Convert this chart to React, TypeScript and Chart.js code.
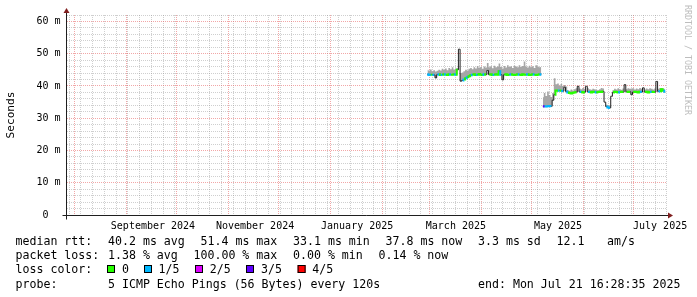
import React, { useEffect, useRef } from 'react';
import { Chart, registerables } from 'chart.js';
Chart.register(...registerables);

// ---------- time axis: days since 2024-08-01 00:00 ----------
const X_MIN = -4.36;
const X_MAX = 354.12;
const MONTH_START_DAYS = [0, 31, 61, 92, 122, 153, 184, 212, 243, 273, 304, 334];
const FIRST_WEEK_DAY = -3;
const MONTH_LABEL_DAYS = [47, 108, 169, 228, 289, 350];
const MONTH_LABELS = ['September 2024', 'November 2024', 'January 2025', 'March 2025', 'May 2025', 'July 2025'];

// ---------- value axis (milliseconds) ----------
const Y_MAX = 62;
const Y_MINOR_STEP = 2;
const Y_MAJOR_STEP = 10;

// ---------- data: segment A starts 2025-02-28 (day 211), one sample per day ----------
const SEG_A_START = 211;
const medianA = [
  43.6, 43.4, 43.5, 43.5, 43.4, 42.5, 43.5, 43.6, 43.4, 43.5,
  43.6, 43.5, 43.4, 43.6, 43.5, 43.5, 43.6, 43.5, 45.0, 51.4,
  41.5, 41.7, 42.0, 42.4, 42.7, 43.0, 43.3, 43.5, 43.6, 43.4,
  43.5, 43.7, 43.5, 43.4, 43.6, 43.5, 44.8, 43.5, 43.6, 43.4,
  43.5, 43.6, 43.5, 44.6, 43.5, 41.9, 43.5, 43.6, 43.4, 43.5,
  43.6, 43.5, 43.4, 43.5, 43.6, 43.5, 43.4, 43.6, 43.5, 43.5,
  43.6, 43.4, 43.5, 43.6, 43.5, 43.4, 43.5, 43.6, 43.5,
];
const smokeA = [
  45.0, 44.8, 45.1, 44.6, 44.9, 44.5, 44.7, 45.0, 44.8, 45.3,
  45.0, 45.4, 44.9, 45.6, 45.2, 45.8, 45.1, 45.4, 45.6, 51.4,
  44.0, 44.2, 44.6, 45.0, 44.8, 45.3, 45.6, 45.2, 45.8, 45.4,
  46.2, 45.6, 45.9, 45.3, 46.0, 45.7, 47.1, 45.8, 46.1, 45.5,
  46.3, 45.8, 46.0, 47.0, 45.9, 45.4, 46.2, 45.7, 46.4, 45.9,
  46.1, 45.6, 46.3, 46.0, 45.8, 46.4, 45.9, 46.2, 47.6, 46.0,
  45.7, 46.3, 45.8, 46.1, 45.6, 46.4, 46.0, 45.8, 45.9,
];
// lost pings out of 5 (9 = drawn by the dark median line only)
const lossA = [
  1, 1, 0, 1, 1, 9, 1, 0, 1, 0,
  1, 0, 0, 1, 0, 0, 1, 0, 1, 9,
  9, 1, 0, 1, 0, 0, 1, 0, 0, 1,
  0, 0, 0, 1, 0, 0, 9, 0, 0, 1,
  0, 0, 0, 1, 0, 9, 0, 0, 0, 1,
  0, 0, 0, 0, 1, 0, 0, 0, 0, 1,
  0, 0, 0, 1, 0, 0, 0, 1, 0,
];

// ---------- segment B starts 2025-05-08 (day 280) ----------
const SEG_B_START = 280;
const medianB = [
  33.6, 33.7, 33.6, 33.7, 33.8, 33.7, 35.6, 37.3, 38.6, 38.5,
  38.6, 38.5, 38.4, 39.6, 38.3, 38.0, 37.8, 37.7, 37.9, 38.0,
  38.1, 39.9, 38.2, 38.1, 38.0, 38.1, 39.9, 38.2, 38.1, 38.0,
  38.2, 38.1, 38.0, 38.1, 38.2, 38.1, 38.3, 35.0, 33.6, 33.3,
  33.2, 36.8, 38.0, 38.2, 38.1, 38.0, 38.1, 38.2, 38.1, 40.4,
  38.2, 38.1, 38.2, 37.3, 38.1, 38.2, 38.1, 38.0, 38.2, 38.1,
  39.4, 38.1, 38.2, 38.0, 38.1, 38.2, 38.1, 38.1, 41.4, 38.3,
  38.4, 39.0, 38.5, 38.2,
];
const smokeB = [
  36.5, 37.8, 36.9, 38.3, 37.2, 36.6, 37.8, 42.4, 40.5, 40.8,
  40.1, 40.6, 40.0, 40.3, 39.8, 38.7, 38.5, 38.9, 38.6, 39.0,
  39.3, 40.0, 39.2, 39.0, 39.4, 39.1, 39.9, 39.3, 39.0, 38.8,
  39.1, 39.0, 38.8, 38.7, 39.0, 39.4, 39.2, 35.0, 34.2, 34.0,
  33.9, 37.0, 38.7, 39.1, 38.9, 39.3, 39.0, 38.8, 39.2, 40.4,
  39.0, 39.3, 39.1, 39.2, 39.3, 38.9, 39.2, 39.0, 39.4, 39.1,
  39.5, 38.9, 39.2, 39.0, 39.3, 39.1, 38.9, 39.2, 41.4, 39.1,
  39.4, 39.3, 39.2, 39.0,
];
const lossB = [
  3, 1, 1, 1, 1, 1, 9, 0, 0, 1,
  0, 1, 1, 9, 1, 0, 0, 0, 0, 0,
  1, 9, 1, 0, 0, 1, 9, 1, 0, 0,
  0, 1, 0, 0, 0, 0, 0, 9, 1, 1,
  1, 9, 0, 0, 0, 1, 0, 0, 0, 9,
  0, 0, 1, 9, 0, 0, 0, 0, 1, 0,
  9, 0, 0, 0, 1, 0, 0, 1, 9, 1,
  0, 0, 1, 0,
];

// ---------- legend texts ----------
const LOSS_KEYS = ['0', '1/5', '2/5', '3/5', '4/5'];
const LOSS_COLORS = ['#26ff00', '#00b8ff', '#dd00ff', '#5e00ff', '#ff0000'];
const RTT_LABEL = 'median rtt:';
const RTT_STATS = ['40.2 ms avg', '51.4 ms max', '33.1 ms min', '37.8 ms now', '3.3 ms sd', '12.1', 'am/s'];
const LOSS_LABEL = 'packet loss:';
const LOSS_STATS = ['1.38 % avg', '100.00 % max', '0.00 % min', '0.14 % now'];
const LOSS_COLOR_LABEL = 'loss color:';
const PROBE_LABEL = 'probe:';
const PROBE_TEXT = '5 ICMP Echo Pings (56 Bytes) every 120s';
const END_TEXT = 'end: Mon Jul 21 16:28:35 2025';
const WATERMARK = 'RRDTOOL / TOBI OETIKER';
const Y_TITLE = 'Seconds';

// ---------- layout / style ----------
const FONT = '"DejaVu Sans Mono", monospace';
const L_ROW_Y = [245, 259, 273, 288];
const L_COL0 = 15.5;
const RTT_X = [108, 200.5, 293, 385.5, 478, 556.5, 607];
const LOSS_X = [108, 193.5, 293, 378.5];
const KEY_BOX_X = [107, 144, 195, 246, 297.6];
const KEY_TEXT_X = [122, 158.6, 209.8, 261, 312.3];
const PROBE_X = 108;
const END_X = 478;
const GRID_MINOR = 'rgba(140,140,140,0.42)';
const GRID_MAJOR = 'rgba(230,80,80,0.5)';
const AXIS_COLOR = '#1f1f1f';
const ARROW_COLOR = '#801f1f';
const SMOKE_COLOR = '#a6a6a6';
const MEDIAN_DARK = '#202020';

function buildPoints() {
  const med: any[] = [];
  const smoke: any[] = [];
  const loss: number[] = [];
  const segs = [
    { start: SEG_A_START, m: medianA, s: smokeA, l: lossA },
    { start: SEG_B_START, m: medianB, s: smokeB, l: lossB },
  ];
  segs.forEach((seg, si) => {
    if (si > 0) {
      med.push({ x: seg.start - 0.5, y: null });
      smoke.push({ x: seg.start - 0.5, y: null });
      loss.push(9);
    }
    seg.m.forEach((v, i) => {
      med.push({ x: seg.start + i, y: v });
      smoke.push({ x: seg.start + i, y: seg.s[i] });
      loss.push(seg.l[i]);
    });
  });
  return { med, smoke, loss };
}

const decor = {
  id: 'rrdDecor',
  afterDraw(chart: any) {
    const ctx = chart.ctx as CanvasRenderingContext2D;
    const xs = chart.scales.x;
    const ys = chart.scales.y;
    const x0 = xs.left - 0.5;
    const x1 = xs.right;
    const y0 = ys.getPixelForValue(0) + 0.5;
    const yTop = ys.top;
    ctx.save();
    // axes
    ctx.strokeStyle = AXIS_COLOR;
    ctx.lineWidth = 1;
    ctx.setLineDash([]);
    ctx.beginPath();
    ctx.moveTo(x0 - 4, y0);
    ctx.lineTo(x1 + 4, y0);
    ctx.moveTo(x0, y0 + 4);
    ctx.lineTo(x0, yTop - 4);
    ctx.stroke();
    // arrows
    ctx.fillStyle = ARROW_COLOR;
    ctx.beginPath();
    ctx.moveTo(x1 + 1, y0 - 3);
    ctx.lineTo(x1 + 6, y0);
    ctx.lineTo(x1 + 1, y0 + 3);
    ctx.closePath();
    ctx.fill();
    ctx.beginPath();
    ctx.moveTo(x0 - 3, yTop - 2);
    ctx.lineTo(x0, yTop - 7);
    ctx.lineTo(x0 + 3, yTop - 2);
    ctx.closePath();
    ctx.fill();

    // legend
    ctx.fillStyle = '#000';
    ctx.font = '11.6px ' + FONT;
    ctx.textBaseline = 'alphabetic';
    ctx.textAlign = 'left';
    ctx.fillText(RTT_LABEL, L_COL0, L_ROW_Y[0]);
    RTT_STATS.forEach((t, i) => ctx.fillText(t, RTT_X[i], L_ROW_Y[0]));
    ctx.fillText(LOSS_LABEL, L_COL0, L_ROW_Y[1]);
    LOSS_STATS.forEach((t, i) => ctx.fillText(t, LOSS_X[i], L_ROW_Y[1]));
    ctx.fillText(LOSS_COLOR_LABEL, L_COL0, L_ROW_Y[2]);
    LOSS_KEYS.forEach((t, i) => {
      ctx.fillStyle = LOSS_COLORS[i];
      ctx.fillRect(KEY_BOX_X[i], L_ROW_Y[2] - 8, 8, 8);
      ctx.strokeStyle = '#000';
      ctx.strokeRect(KEY_BOX_X[i] + 0.5, L_ROW_Y[2] - 8 + 0.5, 7, 7);
      ctx.fillStyle = '#000';
      ctx.fillText(t, KEY_TEXT_X[i], L_ROW_Y[2]);
    });
    ctx.fillText(PROBE_LABEL, L_COL0, L_ROW_Y[3]);
    ctx.fillText(PROBE_TEXT, PROBE_X, L_ROW_Y[3]);
    ctx.fillText(END_TEXT, END_X, L_ROW_Y[3]);

    // watermark
    ctx.fillStyle = '#bdbdbd';
    ctx.font = '8.3px ' + FONT;
    ctx.translate(687.5, 5);
    ctx.rotate(Math.PI / 2);
    ctx.textBaseline = 'middle';
    ctx.fillText(WATERMARK, 0, 0);
    ctx.restore();
  },
};

export default function App() {
  const ref = useRef<HTMLCanvasElement | null>(null);
  useEffect(() => {
    document.body.style.margin = '0';
    const { med, smoke, loss } = buildPoints();
    const weekTicks: number[] = [];
    for (let d = FIRST_WEEK_DAY; d <= X_MAX; d += 7) {
      if (!MONTH_START_DAYS.includes(d)) weekTicks.push(d);
    }
    const gridTicks = [...weekTicks, ...MONTH_START_DAYS].sort((a, b) => a - b);
    const yTicks: number[] = [];
    for (let v = 0; v <= Y_MAX; v += Y_MINOR_STEP) yTicks.push(v);

    const chart = new Chart(ref.current as HTMLCanvasElement, {
      type: 'line',
      data: {
        datasets: [
          {
            data: med,
            order: 0,
            borderWidth: 2,
            borderColor: LOSS_COLORS[0],
            stepped: 'middle',
            pointRadius: 0,
            fill: false,
            segment: {
              borderColor: (c: any) => {
                const a = loss[c.p0DataIndex];
                const b = loss[c.p1DataIndex];
                if (a === 9 || b === 9) return 'rgba(0,0,0,0)';
                return LOSS_COLORS[a];
              },
            },
          } as any,
          {
            data: med,
            order: 1,
            borderWidth: 1,
            borderColor: MEDIAN_DARK,
            stepped: 'middle',
            pointRadius: 0,
            fill: false,
          } as any,
          {
            data: smoke,
            order: 2,
            borderWidth: 0,
            borderColor: 'rgba(0,0,0,0)',
            backgroundColor: SMOKE_COLOR,
            stepped: 'middle',
            pointRadius: 0,
            fill: { target: 1 },
          } as any,
        ],
      },
      options: {
        animation: false,
        responsive: false,
        devicePixelRatio: 1,
        layout: { padding: { left: 0, top: 15, right: 30, bottom: 0 } },
        plugins: { legend: { display: false }, tooltip: { enabled: false } },
        scales: {
          x: {
            type: 'linear',
            min: X_MIN,
            max: X_MAX,
            position: 'bottom',
            grid: { display: false, drawTicks: false },
            border: { display: false },
            ticks: {
              autoSkip: false,
              maxRotation: 0,
              padding: 5,
              color: '#000',
              font: { family: FONT, size: 10 },
              callback: (v: any) => {
                const i = MONTH_LABEL_DAYS.indexOf(Number(v));
                return i >= 0 ? MONTH_LABELS[i] : '';
              },
            },
            afterBuildTicks: (s: any) => {
              s.ticks = MONTH_LABEL_DAYS.map((v) => ({ value: v }));
            },
            afterFit: (s: any) => {
              s.height = 82;
            },
          },
          xgrid: {
            type: 'linear',
            min: X_MIN,
            max: X_MAX,
            position: 'bottom',
            ticks: { display: false },
            grid: {
              drawTicks: false,
              lineWidth: 1,
              color: (c: any) =>
                MONTH_START_DAYS.includes(c.tick?.value) ? GRID_MAJOR : GRID_MINOR,
            },
            border: { display: false, dash: [1, 1] },
            afterBuildTicks: (s: any) => {
              s.ticks = gridTicks.map((v) => ({ value: v }));
            },
            afterFit: (s: any) => {
              s.height = 0;
            },
          },
          y: {
            type: 'linear',
            min: 0,
            max: Y_MAX,
            position: 'left',
            grid: {
              drawTicks: false,
              lineWidth: 1,
              color: (c: any) => {
                const v = c.tick?.value;
                if (v === 0) return 'rgba(0,0,0,0)';
                return v % Y_MAJOR_STEP === 0 ? GRID_MAJOR : GRID_MINOR;
              },
            },
            border: { display: false, dash: [1, 1] },
            ticks: {
              autoSkip: false,
              padding: 6.5,
              color: '#000',
              font: { family: FONT, size: 10 },
              callback: (v: any) => {
                const n = Number(v);
                if (n % Y_MAJOR_STEP !== 0) return '';
                return n === 0 ? '0  ' : n + ' m';
              },
            },
            title: {
              display: true,
              text: Y_TITLE,
              color: '#000',
              font: { family: FONT, size: 11.1 },
              padding: { top: 4, bottom: 4 },
            },
            afterBuildTicks: (s: any) => {
              s.ticks = yTicks.map((v) => ({ value: v }));
            },
            afterFit: (s: any) => {
              s.width = 67;
            },
          },
        },
      } as any,
      plugins: [decor],
    });
    return () => chart.destroy();
  }, []);
  return (
    <canvas
      ref={ref}
      width={697}
      height={297}
      style={{ display: 'block', width: 697, height: 297, background: '#fff' }}
    />
  );
}
